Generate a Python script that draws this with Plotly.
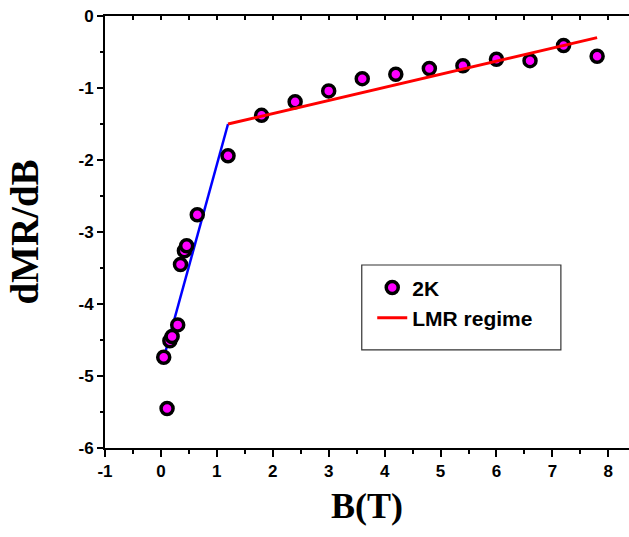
import plotly.graph_objects as go

# Data
b_2k = [0.05, 0.11, 0.16, 0.20, 0.30, 0.35, 0.42, 0.46, 0.65, 1.2,
        1.8, 2.4, 3.0, 3.6, 4.2, 4.8, 5.4, 6.0, 6.6, 7.2, 7.8]
dmr_2k = [-4.74, -5.45, -4.51, -4.45, -4.29, -3.45, -3.26, -3.19, -2.76, -1.94,
          -1.38, -1.19, -1.04, -0.87, -0.81, -0.73, -0.69, -0.60, -0.62, -0.41, -0.56]
low_fit_b = [0.05, 1.2]
low_fit_y = [-4.75, -1.5]
lmr_fit_b = [1.2, 7.8]
lmr_fit_y = [-1.5, -0.3]

x_tickvals = [-1, 0, 1, 2, 3, 4, 5, 6, 7, 8]
x_ticktext = ["-1", "0", "1", "2", "3", "4", "5", "6", "7", "8"]
y_tickvals = [0, -1, -2, -3, -4, -5, -6]
y_ticktext = ["0", "-1", "-2", "-3", "-4", "-5", "-6"]

x_range = [-1, 8.37]
y_range = [-6, 0]

tick_font = dict(family="Arial", size=17, color="black", weight="bold")

fig = go.Figure()
fig.add_trace(go.Scatter(
    x=low_fit_b, y=low_fit_y, mode="lines",
    line=dict(color="#0000ff", width=2.5), showlegend=False))
fig.add_trace(go.Scatter(
    x=b_2k, y=dmr_2k, mode="markers", name="<b>2K</b>",
    marker=dict(size=12, color="#ff00ff", line=dict(color="black", width=3.5))))
fig.add_trace(go.Scatter(
    x=lmr_fit_b, y=lmr_fit_y, mode="lines", name="<b>LMR regime</b>",
    line=dict(color="#ff0000", width=3)))
# invisible trace to activate top axis
fig.add_trace(go.Scatter(x=[x_range[0]], y=[0], xaxis="x2", mode="markers",
                         marker=dict(opacity=0), showlegend=False, hoverinfo="skip"))

fig.update_layout(
    width=629, height=537,
    margin=dict(l=105, r=0, t=16, b=89),
    paper_bgcolor="white", plot_bgcolor="white",
    font=dict(family="Arial", size=17, color="black"),
    showlegend=True,
    legend=dict(x=0.51, y=0.418, xanchor="left", yanchor="top",
                bgcolor="rgba(0,0,0,0)", borderwidth=0,
                font=dict(family="Arial", size=21, color="black"),
                tracegroupgap=0),
    shapes=[dict(type="rect", xref="paper", yref="paper",
                 x0=0.490, x1=0.870, y0=0.227, y1=0.4236,
                 line=dict(color="#333333", width=1.2), fillcolor="rgba(0,0,0,0)")],
    xaxis=dict(
        range=x_range, tickmode="array", tickvals=x_tickvals,
        ticktext=["<b>%s</b>" % t for t in x_ticktext],
        showgrid=False, zeroline=False, showline=True, linecolor="black", linewidth=2,
        ticks="outside", ticklen=7, tickwidth=2, tickcolor="black",
        minor=dict(dtick=0.5, tick0=0, ticks="outside", ticklen=4, tickwidth=2, tickcolor="black"),
        tickfont=tick_font,
        title=dict(text="<b>B(T)</b>", font=dict(family="Times New Roman", size=36, color="black"),
                   standoff=12)),
    xaxis2=dict(
        range=x_range, overlaying="x", side="top", tickmode="array", tickvals=x_tickvals,
        showticklabels=False, showgrid=False, zeroline=False, showline=True,
        linecolor="black", linewidth=2, ticks="inside", ticklen=4, tickwidth=1.5,
        tickcolor="black",
        minor=dict(dtick=0.5, tick0=0, ticks="inside", ticklen=4, tickwidth=1.5, tickcolor="black")),
    yaxis=dict(
        range=y_range, tickmode="array", tickvals=y_tickvals,
        ticktext=["<b>%s</b>" % t for t in y_ticktext],
        showgrid=False, zeroline=False, showline=True, linecolor="black", linewidth=2,
        ticks="outside", ticklen=6, tickwidth=2, tickcolor="black",
        minor=dict(dtick=0.5, tick0=0, ticks="outside", ticklen=3, tickwidth=2, tickcolor="black"),
        tickfont=tick_font,
        title=dict(text="<b>dMR/dB</b>", font=dict(family="Times New Roman", size=39, color="black"),
                   standoff=28)),
)

fig.write_html("out.html")
